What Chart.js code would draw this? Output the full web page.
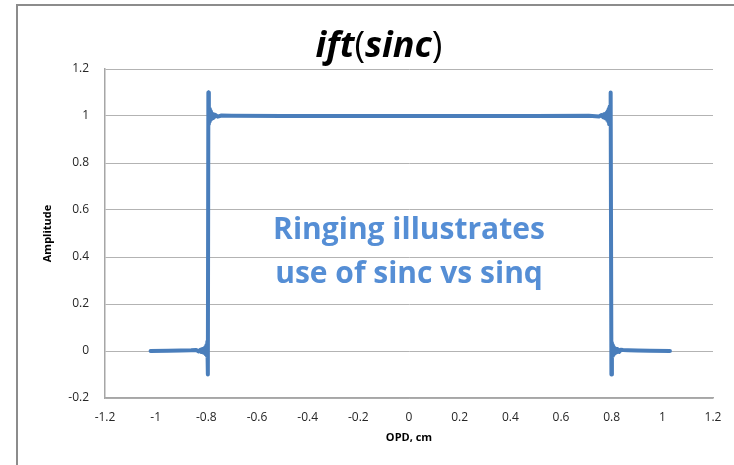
<!DOCTYPE html>
<html>
<head>
<meta charset="utf-8">
<script src="https://cdn.jsdelivr.net/npm/chart.js@4.4.0/dist/chart.umd.min.js"></script>
<style>
    body { margin: 0; background: #ffffff; }
    #caixa { position: relative; width: 734px; height: 465px; }
</style>
</head>
<body>
<div id="caixa"><canvas id="grafico" width="734" height="465"></canvas></div>
<script>
// OPD (cm) e amplitude
const opd = [
    -1.02, -0.95, -0.9, -0.86, -0.84, -0.83, -0.824, -0.82, -0.817, -0.814,
    -0.812, -0.81, -0.808, -0.806, -0.804, -0.802, -0.8, -0.798, -0.796, -0.794,
    -0.792, -0.79, -0.788, -0.786, -0.784, -0.782, -0.78, -0.777, -0.774, -0.77,
    -0.765, -0.755, -0.74, -0.7, -0.5, 0, 0.5, 0.71, 0.75, 0.76,
    0.766, 0.77, 0.773, 0.776, 0.778, 0.78, 0.782, 0.784, 0.786, 0.788,
    0.79, 0.792, 0.794, 0.796, 0.799, 0.801, 0.803, 0.805, 0.807, 0.809,
    0.811, 0.813, 0.815, 0.818, 0.821, 0.825, 0.83, 0.836, 0.845, 0.865,
    0.9, 0.95, 1.03
];
const amplitude = [
    0, 0.001, 0.002, 0.003, 0.004, -0.002, 0.005, -0.004, 0.007, -0.005,
    0.009, -0.007, 0.012, -0.01, 0.016, -0.014, 0.024, -0.02, 0.04, -0.1,
    1.1, 0.965, 1.03, 0.978, 1.02, 0.985, 1.014, 0.99, 1.009, 0.994,
    1.005, 0.997, 1.002, 1.001, 1, 1, 1, 1.001, 0.998, 1.004,
    0.995, 1.007, 0.992, 1.01, 0.988, 1.014, 0.984, 1.02, 0.978, 1.03,
    0.965, 1.04, 0.975, 1.1, -0.1, 0.035, -0.02, 0.024, -0.014, 0.016,
    -0.01, 0.012, -0.007, 0.009, -0.005, 0.007, -0.004, 0.005, 0.004, 0.003,
    0.002, 0.001, 0
];
const eixoX = { min: -1.2, max: 1.2, passo: 0.2 };
const eixoY = { min: -0.2, max: 1.2, passo: 0.2 };
const titulo = [["ift", "italic bold"], ["(", "normal"], ["sinc", "italic bold"], [")", "normal"]];
const nota = ["Ringing illustrates", "use of sinc vs sinq"];

const pontos = opd.map((x, i) => ({ x: x, y: amplitude[i] }));

function rotulo(v) {
    return String(Math.round(v * 10) / 10);
}

// moldura, título, nota e títulos dos eixos
const extras = {
    id: "extras",
    beforeDraw(chart) {
        const ctx = chart.ctx;
        ctx.save();
        ctx.strokeStyle = "#8c8c8c";
        ctx.lineWidth = 2;
        ctx.beginPath();
        ctx.moveTo(17, 465);
        ctx.lineTo(17, 5);
        ctx.lineTo(734, 5);
        ctx.stroke();
        ctx.restore();
    },
    afterDraw(chart) {
        const ctx = chart.ctx;
        const area = chart.chartArea;
        ctx.save();
        ctx.fillStyle = "#000000";
        ctx.textBaseline = "alphabetic";
        let total = 0;
        titulo.forEach(p => {
            ctx.font = p[1] + " 36px 'Open Sans'";
            total += ctx.measureText(p[0]).width;
        });
        let x = 379 - total / 2;
        titulo.forEach(p => {
            ctx.font = p[1] + " 36px 'Open Sans'";
            ctx.textAlign = "left";
            ctx.fillText(p[0], x, 57);
            x += ctx.measureText(p[0]).width;
        });

        ctx.fillStyle = "#558ed5";
        ctx.font = "bold 30px 'Open Sans'";
        ctx.textAlign = "center";
        ctx.fillText(nota[0], 409, 239);
        ctx.fillText(nota[1], 409, 283);

        ctx.fillStyle = "#000000";
        ctx.font = "bold 11px 'Open Sans'";
        ctx.textBaseline = "middle";
        ctx.fillText("OPD, cm", (area.left + area.right) / 2, 438);
        ctx.translate(48, (area.top + area.bottom) / 2);
        ctx.rotate(-Math.PI / 2);
        ctx.fillText("Amplitude", 0, 0);
        ctx.restore();
    }
};

new Chart(document.getElementById("grafico"), {
    type: "scatter",
    data: {
        datasets: [{
            label: "ift(sinc)",
            data: pontos,
            showLine: true,
            borderColor: "#4a7ebb",
            borderWidth: 4,
            borderJoinStyle: "round",
            borderCapStyle: "round",
            pointRadius: 0,
            tension: 0
        }]
    },
    options: {
        responsive: false,
        animation: false,
        layout: { padding: { left: 0, right: 21, top: 69, bottom: 0 } },
        plugins: {
            legend: { display: false },
            tooltip: { enabled: false }
        },
        scales: {
            x: {
                type: "linear",
                min: eixoX.min,
                max: eixoX.max,
                afterBuildTicks(scale) {
                    scale.ticks = [];
                    for (let v = eixoX.min; v <= eixoX.max + 1e-9; v += eixoX.passo) {
                        scale.ticks.push({ value: Math.round(v * 10) / 10 });
                    }
                },
                afterFit(scale) { scale.height = 67; },
                grid: { display: false, drawTicks: false },
                border: { display: true, color: "#a6a6a6", width: 1.5 },
                ticks: {
                    padding: 12,
                    color: "#262626",
                    font: { family: "'Open Sans'", size: 12 },
                    maxRotation: 0,
                    autoSkip: false,
                    callback: v => rotulo(v)
                }
            },
            y: {
                min: eixoY.min,
                max: eixoY.max,
                afterBuildTicks(scale) {
                    scale.ticks = [];
                    for (let v = eixoY.min; v <= eixoY.max + 1e-9; v += eixoY.passo) {
                        scale.ticks.push({ value: Math.round(v * 10) / 10 });
                    }
                },
                afterFit(scale) { scale.width = 105; },
                grid: { color: "#b3b3b3", lineWidth: 1, drawTicks: false },
                border: { display: true, color: "#a6a6a6", width: 1.5 },
                ticks: {
                    padding: 16,
                    color: "#262626",
                    font: { family: "'Open Sans'", size: 12 },
                    callback: v => rotulo(v)
                }
            }
        }
    },
    plugins: [extras]
});
</script>
</body>
</html>
